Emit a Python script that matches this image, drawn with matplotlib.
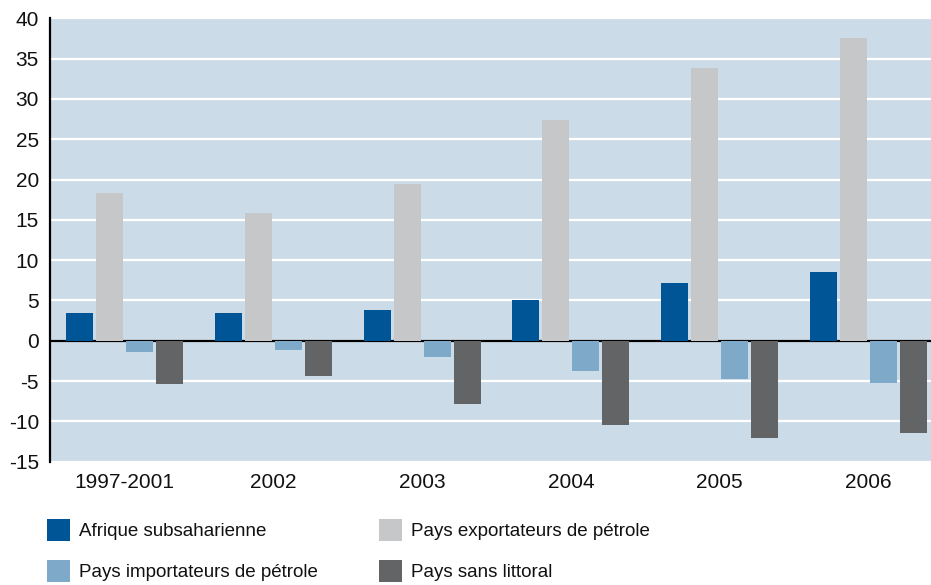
import matplotlib
matplotlib.use("Agg")
import matplotlib.pyplot as plt
import numpy as np

# Data
categories = ["1997-2001", "2002", "2003", "2004", "2005", "2006"]
series_names = [
    "Afrique subsaharienne",
    "Pays exportateurs de pétrole",
    "Pays importateurs de pétrole",
    "Pays sans littoral",
]
afrique_subsaharienne = [3.4, 3.4, 3.8, 5.0, 7.2, 8.5]
pays_exportateurs = [18.3, 15.9, 19.5, 27.4, 33.8, 37.5]
pays_importateurs = [-1.4, -1.1, -2.0, -3.7, -4.7, -5.2]
pays_sans_littoral = [-5.3, -4.4, -7.9, -10.5, -12.0, -11.5]
y_ticks = [-15, -10, -5, 0, 5, 10, 15, 20, 25, 30, 35, 40]

series_values = [afrique_subsaharienne, pays_exportateurs,
                 pays_importateurs, pays_sans_littoral]
colors = ["#005596", "#c6c7c9", "#7fa9c9", "#636466"]

plt.rcParams["font.family"] = ["Liberation Sans", "DejaVu Sans"]

W, H = 931, 585
fig = plt.figure(figsize=(W / 100, H / 100), dpi=100)
ax = fig.add_axes([50 / W, 1 - 461.7 / H, 1 - 50 / W, (461.7 - 18.3) / H])

ax.set_facecolor("#cbdce8")
x = np.arange(len(categories))
step = 0.2016
width = 0.1815
bars = []
for k, (vals, col) in enumerate(zip(series_values, colors)):
    b = ax.bar(x + (k - 1.5) * step, vals, width=width, color=col,
               label=series_names[k], zorder=3, linewidth=0)
    bars.append(b)

ax.set_ylim(-15, 40)
ax.set_xlim(-0.5, 5.42)
ax.set_yticks(y_ticks)
ax.set_yticklabels([str(t) for t in y_ticks], fontsize=15, color="#111111")
ax.set_xticks(x)
ax.set_xticklabels(categories, fontsize=15, color="#111111")
ax.tick_params(axis="both", length=0)
ax.tick_params(axis="x", pad=8)
ax.tick_params(axis="y", pad=8)

ax.yaxis.grid(True, color="white", linewidth=1.6, zorder=1)
ax.set_axisbelow(True)
ax.axhline(0, color="black", linewidth=1.6, zorder=2)

for side in ["top", "right", "bottom"]:
    ax.spines[side].set_visible(False)
ax.spines["left"].set_linewidth(1.6)
ax.spines["left"].set_color("black")

# Legend in two columns, each its own legend box
leg_kw = dict(frameon=False, fontsize=13.5, handlelength=1.25, handleheight=1.45,
              handletextpad=0.45, labelspacing=1.0, borderpad=0, borderaxespad=0,
              loc="upper left", bbox_transform=fig.transFigure,
              labelcolor="#111111")
leg1 = ax.legend([bars[0], bars[2]], [series_names[0], series_names[2]],
                 bbox_to_anchor=(47 / W, 1 - 519 / H), **leg_kw)
ax.add_artist(leg1)
leg2 = ax.legend([bars[1], bars[3]], [series_names[1], series_names[3]],
                 bbox_to_anchor=(379 / W, 1 - 519 / H), **leg_kw)

fig.savefig("out.png", dpi=100, facecolor="white")
